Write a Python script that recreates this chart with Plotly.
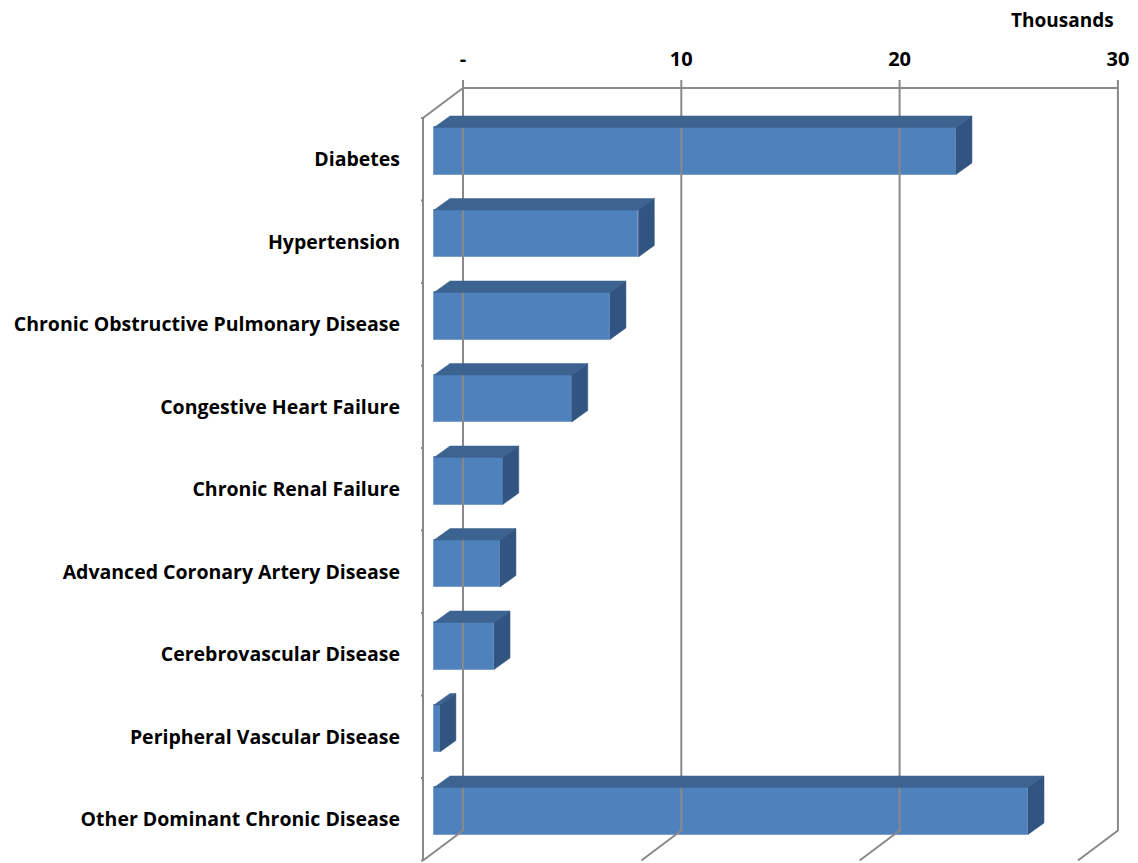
import plotly.graph_objects as go

# ---------------- data ----------------
categories = [
    "Diabetes",
    "Hypertension",
    "Chronic Obstructive Pulmonary Disease",
    "Congestive Heart Failure",
    "Chronic Renal Failure",
    "Advanced Coronary Artery Disease",
    "Cerebrovascular Disease",
    "Peripheral Vascular Disease",
    "Other Dominant Chronic Disease",
]
values = [23.91, 9.36, 8.06, 6.31, 3.15, 3.02, 2.75, 0.27, 27.21]  # thousands
tick_values = [0, 10, 20, 30]
tick_labels = ["-", "10", "20", "30"]
axis_unit_label = "Thousands"

# ---------------- 3D styling (pixel geometry -> data units) ----------------
PXK = 21.83          # px per thousand
BAND = 82.5          # px per category
FRONT_DX, FRONT_DY = -11 / PXK, 8.25 / BAND    # bar plane -> front plane
BACK_DX, BACK_DY = 29 / PXK, -21.75 / BAND     # bar plane -> back wall
DEPTH_DX, DEPTH_DY = 16 / PXK, -11.5 / BAND    # bar depth
BAR_W = 0.57

FRONT = "#4F81BD"
TOP = "#3D6491"
SIDE = "#325481"
GRID = "#898989"

n = len(categories)
idx = list(range(n))
bar_y = [i - FRONT_DY for i in idx]   # bar plane centre

fig = go.Figure()

# frame / grid lines
gx, gy = [], []
y_top_wall = -0.5 - FRONT_DY + BACK_DY
y_bot_wall = n - 0.5 - FRONT_DY + BACK_DY
for t in tick_values:
    xb = t + BACK_DX
    xf = t + FRONT_DX
    gx += [xb, xb, xf, None]
    gy += [-0.5 - 38 / BAND, y_bot_wall, n - 0.5, None]
gx += [tick_values[0] + BACK_DX, tick_values[-1] + BACK_DX, None]
gy += [y_top_wall, y_top_wall, None]
gx += [tick_values[0] + BACK_DX, FRONT_DX, FRONT_DX, None]
gy += [y_top_wall, -0.5, n - 0.5, None]
for b in range(n + 1):
    gx += [FRONT_DX - 7 / PXK, FRONT_DX, None]
    gy += [b - 0.5, b - 0.5, None]
fig.add_trace(go.Scatter(x=gx, y=gy, mode="lines", line=dict(color=GRID, width=2),
                         hoverinfo="skip", showlegend=False))

# top and side faces
for v, yc in zip(values, bar_y):
    yt = yc - BAR_W / 2
    yb = yc + BAR_W / 2
    fig.add_trace(go.Scatter(
        x=[0, v, v + DEPTH_DX, DEPTH_DX, 0],
        y=[yt, yt, yt + DEPTH_DY, yt + DEPTH_DY, yt],
        fill="toself", fillcolor=TOP, mode="lines", line=dict(color=TOP, width=0.5),
        hoverinfo="skip", showlegend=False))
    fig.add_trace(go.Scatter(
        x=[v, v + DEPTH_DX, v + DEPTH_DX, v, v],
        y=[yt, yt + DEPTH_DY, yb + DEPTH_DY, yb, yt],
        fill="toself", fillcolor=SIDE, mode="lines", line=dict(color=SIDE, width=0.5),
        hoverinfo="skip", showlegend=False))

# front faces
fig.add_trace(go.Bar(
    x=values, y=bar_y, orientation="h", width=BAR_W,
    marker=dict(color=FRONT, line=dict(color="#7A9FCF", width=1)),
    showlegend=False, hovertext=categories))

# ---------------- layout ----------------
OFF = 8                      # page body margin
PW, PH = 1138, 863           # page (window) size
L, R, T, B = 421, 6, 78, 0   # plot area edges in page px
W, H = PW - OFF, PH - OFF
x0 = -(434 - L) / PXK
x1 = (PW - R - 434) / PXK
y_top = -0.5 - (118 - T) / BAND
y_bot = -0.5 + (PH - B - 118) / BAND
plot_h = PH - T - B

font_family = "'Open Sans', sans-serif"
FS = 20
FS_Y = 19.5
fig.update_layout(
    width=W, height=H,
    margin=dict(l=L - OFF, r=R, t=T - OFF, b=B, pad=0, autoexpand=False),
    plot_bgcolor="white", paper_bgcolor="white",
    bargap=0,
    font=dict(family=font_family, size=FS, color="black"),
    xaxis=dict(range=[x0, x1], side="top", showgrid=False, zeroline=False,
               showline=False, tickmode="array", automargin=False,
               tickvals=[t + BACK_DX for t in tick_values], ticktext=tick_labels,
               ticks="", ticklabelstandoff=7,
               tickfont=dict(family=font_family, size=FS, color="black", weight="bold")),
    yaxis=dict(range=[y_bot, y_top], showgrid=False, zeroline=False, showline=False,
               tickmode="array", tickvals=idx, ticktext=categories, ticks="",
               ticklabelstandoff=20, automargin=False,
               tickfont=dict(family=font_family, size=FS_Y, color="black", weight="bold")),
    annotations=[dict(text=axis_unit_label, xref="paper", yref="paper",
                      x=(1115 - L) / (PW - L - R), y=(PH - B - OFF + 2) / plot_h,
                      xanchor="right", yanchor="top", showarrow=False, borderpad=0,
                      font=dict(family=font_family, size=FS - 1, color="black", weight="bold"))],
)

fig.write_html("out.html")
